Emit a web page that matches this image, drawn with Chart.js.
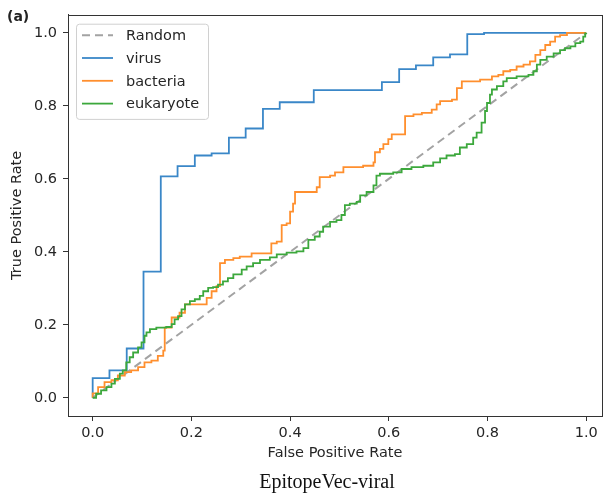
<!DOCTYPE html>
<html>
<head>
<meta charset="utf-8">
<script src="https://cdn.jsdelivr.net/npm/chart.js@4/dist/chart.umd.min.js"></script>
<style>
  html, body { margin: 0; padding: 0; background: #fff; }
  #wrap { position: relative; width: 603px; height: 496px; overflow: hidden; }
  #panel { position: absolute; left: 7px; top: 8px; font: bold 14px "DejaVu Sans", sans-serif; color: #222; }
  #caption { position: absolute; left: 0; width: 654px; top: 470px; text-align: center;
    font: 20px "Liberation Serif", serif; color: #111; }
</style>
</head>
<body>
<div id="wrap">
  <canvas id="roc" width="603" height="496"></canvas>
  <div id="panel">(a)</div>
  <div id="caption">EpitopeVec-viral</div>
</div>
<script>
"use strict";
const $ = (id) => document.getElementById(id);

// axis ticks
const X_TICKS = [0, 0.2, 0.4, 0.6, 0.8, 1.0];
const Y_TICKS = [0, 0.2, 0.4, 0.6, 0.8, 1.0];

// diagonal
const RANDOM_FPR = [0, 1];
const RANDOM_TPR = [0, 1];

// ROC curves
const VIRUS_FPR = [0, 0, 0.034, 0.069, 0.103, 0.138, 0.172, 0.207, 0.241, 0.276, 0.310,
  0.345, 0.379, 0.448, 0.586, 0.621, 0.655, 0.690, 0.724, 0.759, 0.793, 1.0];
const VIRUS_TPR = [0, 0.054, 0.075, 0.135, 0.346, 0.607, 0.635, 0.664, 0.670, 0.713, 0.738,
  0.792, 0.810, 0.843, 0.865, 0.901, 0.911, 0.933, 0.941, 0.997, 1.0, 1.0];

const BACTERIA_FPR = [0, 0, 0.011, 0.024, 0.038, 0.051, 0.065, 0.078, 0.092, 0.105, 0.119,
  0.132, 0.143, 0.146, 0.160, 0.176, 0.187, 0.231, 0.241, 0.251, 0.258, 0.268, 0.285, 0.298,
  0.322, 0.362, 0.373, 0.383, 0.393, 0.400, 0.406, 0.410, 0.454, 0.460, 0.481, 0.491, 0.508,
  0.548, 0.569, 0.572, 0.582, 0.589, 0.599, 0.606, 0.633, 0.650, 0.667, 0.687, 0.697, 0.704,
  0.728, 0.738, 0.748, 0.785, 0.809, 0.822, 0.832, 0.846, 0.859, 0.873, 0.886, 0.897, 0.907,
  0.917, 0.927, 0.937, 0.947, 0.961, 1.0];
const BACTERIA_TPR = [0, 0.012, 0.029, 0.043, 0.048, 0.061, 0.070, 0.075, 0.084, 0.097, 0.102,
  0.115, 0.129, 0.192, 0.220, 0.233, 0.256, 0.274, 0.292, 0.306, 0.369, 0.378, 0.383, 0.387,
  0.396, 0.423, 0.428, 0.473, 0.478, 0.510, 0.532, 0.564, 0.577, 0.605, 0.609, 0.618, 0.632,
  0.636, 0.645, 0.673, 0.682, 0.695, 0.709, 0.722, 0.772, 0.777, 0.781, 0.790, 0.804, 0.813,
  0.817, 0.849, 0.867, 0.872, 0.881, 0.885, 0.895, 0.899, 0.908, 0.913, 0.922, 0.940, 0.953,
  0.967, 0.976, 0.990, 0.994, 1.0, 1.0];

const EUKARYOTE_FPR = [0, 0.007, 0.017, 0.028, 0.038, 0.045, 0.055, 0.061, 0.068, 0.075, 0.082,
  0.092, 0.099, 0.105, 0.109, 0.116, 0.129, 0.149, 0.160, 0.166, 0.173, 0.180, 0.187, 0.197,
  0.207, 0.217, 0.224, 0.234, 0.244, 0.254, 0.264, 0.274, 0.285, 0.302, 0.312, 0.325, 0.339,
  0.359, 0.373, 0.393, 0.413, 0.427, 0.437, 0.450, 0.460, 0.467, 0.481, 0.494, 0.504, 0.511,
  0.521, 0.535, 0.542, 0.555, 0.569, 0.575, 0.582, 0.609, 0.626, 0.646, 0.670, 0.690, 0.704,
  0.717, 0.734, 0.744, 0.758, 0.771, 0.778, 0.788, 0.795, 0.799, 0.805, 0.809, 0.819, 0.832,
  0.839, 0.859, 0.883, 0.893, 0.900, 0.907, 0.920, 0.934, 0.947, 0.957, 0.968, 0.978, 0.988,
  0.994, 0.998, 1.0];
const EUKARYOTE_TPR = [0, 0.011, 0.020, 0.029, 0.039, 0.052, 0.066, 0.075, 0.097, 0.111, 0.124,
  0.138, 0.152, 0.170, 0.179, 0.188, 0.192, 0.194, 0.202, 0.215, 0.224, 0.242, 0.256, 0.265,
  0.270, 0.279, 0.292, 0.301, 0.303, 0.310, 0.319, 0.328, 0.338, 0.351, 0.360, 0.369, 0.378,
  0.385, 0.393, 0.398, 0.401, 0.410, 0.433, 0.442, 0.455, 0.469, 0.482, 0.487, 0.501, 0.528,
  0.532, 0.537, 0.555, 0.564, 0.582, 0.609, 0.614, 0.618, 0.627, 0.632, 0.636, 0.645, 0.656,
  0.664, 0.668, 0.686, 0.695, 0.713, 0.727, 0.754, 0.786, 0.808, 0.831, 0.845, 0.854, 0.867,
  0.876, 0.881, 0.885, 0.895, 0.913, 0.926, 0.935, 0.944, 0.953, 0.958, 0.963, 0.972, 0.976,
  0.990, 0.999, 1.0];

const COLORS = { Random: "#a3a3a3", virus: "#3a87c8", bacteria: "#ff8f2e", eukaryote: "#3ca83c" };
const FONT = { family: "'DejaVu Sans', sans-serif", size: 14.5 };
const INK = "#262626";

Chart.defaults.animation = false;
Chart.defaults.font.family = FONT.family;
Chart.defaults.color = INK;

const pts = (xs, ys) => xs.map((x, i) => ({ x, y: ys[i] }));

function curve(label, xs, ys, order, extra) {
  return Object.assign({ label, data: pts(xs, ys), order, showLine: true, pointRadius: 0,
    borderColor: COLORS[label], backgroundColor: COLORS[label], borderWidth: 1.8,
    stepped: true, fill: false }, extra || {});
}

// frame on all four sides (matplotlib spines)
const frame = {
  id: "frame",
  afterDraw(chart) {
    const { ctx, chartArea: a } = chart;
    ctx.save();
    ctx.strokeStyle = "#333";
    ctx.lineWidth = 1;
    ctx.strokeRect(Math.round(a.left) + 0.5, Math.round(a.top) + 0.5,
      Math.round(a.right - a.left), Math.round(a.bottom - a.top));
    ctx.restore();
  },
};

// legend box in the upper-left corner of the plot
const legendBox = {
  id: "legendBox",
  afterDraw(chart) {
    const { ctx, chartArea: a } = chart;
    const ds = chart.data.datasets;
    const x0 = a.left + 8, y0 = a.top + 9, w = 132, rowH = 22.8;
    const h = rowH * ds.length + 4;
    ctx.save();
    ctx.fillStyle = "rgba(255,255,255,0.85)";
    ctx.strokeStyle = "#d0d0d0";
    ctx.lineWidth = 1;
    ctx.beginPath();
    ctx.roundRect(x0 + 0.5, y0 + 0.5, w, h, 3);
    ctx.fill();
    ctx.stroke();
    ctx.font = `${FONT.size}px ${FONT.family}`;
    ctx.textBaseline = "middle";
    ds.forEach((d, i) => {
      const y = y0 + 11.5 + i * rowH;
      ctx.strokeStyle = d.borderColor;
      ctx.lineWidth = d.borderWidth;
      ctx.setLineDash(d.borderDash || []);
      ctx.beginPath();
      ctx.moveTo(x0 + 6, y);
      ctx.lineTo(x0 + 37, y);
      ctx.stroke();
      ctx.setLineDash([]);
      ctx.fillStyle = INK;
      ctx.fillText(d.label, x0 + 50, y + 1);
    });
    ctx.restore();
  },
};

new Chart($("roc"), {
  type: "scatter",
  data: {
    datasets: [
      curve("Random", RANDOM_FPR, RANDOM_TPR, 4, { stepped: false, borderDash: [8, 5], borderWidth: 2 }),
      curve("virus", VIRUS_FPR, VIRUS_TPR, 3),
      curve("bacteria", BACTERIA_FPR, BACTERIA_TPR, 2),
      curve("eukaryote", EUKARYOTE_FPR, EUKARYOTE_TPR, 1),
    ],
  },
  options: {
    responsive: false,
    devicePixelRatio: 1,
    layout: { padding: { left: 0, top: 11, right: 1, bottom: 30 } },
    plugins: { legend: { display: false }, tooltip: { enabled: false } },
    scales: {
      x: {
        type: "linear", min: -0.05, max: 1.032,
        afterBuildTicks: (s) => { s.ticks = X_TICKS.map((v) => ({ value: v })); },
        afterFit: (s) => { s.height = 50; },
        ticks: { font: FONT, color: INK, padding: 4, callback: (v) => v.toFixed(1) },
        grid: { drawOnChartArea: false, drawTicks: true, tickLength: 5, color: "#333" },
        border: { display: true, color: "#333" },
        title: { display: true, text: "False Positive Rate", font: FONT, color: INK,
          padding: { top: 0, bottom: 4 } },
      },
      y: {
        type: "linear", min: -0.05, max: 1.05,
        afterBuildTicks: (s) => { s.ticks = Y_TICKS.map((v) => ({ value: v })); },
        afterFit: (s) => { s.width = 68; },
        ticks: { font: FONT, color: INK, padding: 6, callback: (v) => v.toFixed(1) },
        grid: { drawOnChartArea: false, drawTicks: true, tickLength: 5, color: "#333" },
        border: { display: true, color: "#333" },
        title: { display: true, text: "True Positive Rate", font: FONT, color: INK,
          padding: { top: 9, bottom: 0 } },
      },
    },
  },
  plugins: [frame, legendBox],
});
</script>
</body>
</html>
